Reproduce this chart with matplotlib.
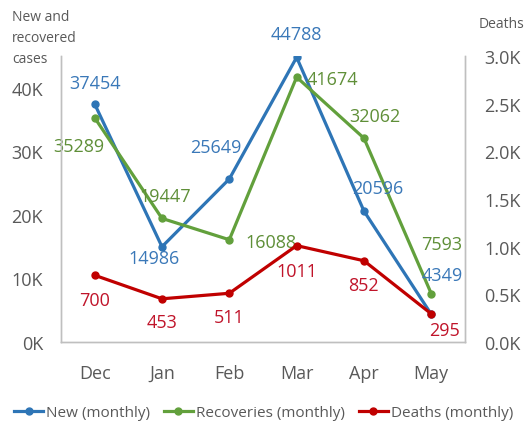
import matplotlib
matplotlib.use('Agg')
import matplotlib.pyplot as plt
from matplotlib.ticker import FuncFormatter

plt.rcParams['font.family'] = ['Open Sans', 'DejaVu Sans']

months = ['Dec', 'Jan', 'Feb', 'Mar', 'Apr', 'May']
new_cases = [37454, 14986, 25649, 44788, 20596, 4349]
recoveries = [35289, 19447, 16088, 41674, 32062, 7593]
deaths = [700, 453, 511, 1011, 852, 295]

# label offsets in pixels (dx, dy), picked to sit where the original has them
new_off = [(0, 21), (-8, -11), (-13, 32), (0, 23), (14, 23), (11, 39)]
rec_off = [(-16, -28), (3, 22), (42, -2), (36, -2), (11, 22), (10, 50)]
dth_off = [(0, -25), (0, -23), (0, -24), (0, -25), (-1, -24), (13, -16)]

c_new, c_rec, c_dth = '#2E75B6', '#62A03C', '#C00000'
t_new, t_rec, t_dth = '#3A78B8', '#5F8F38', '#C0142A'
grey = '#595959'

fig = plt.figure(figsize=(5.27, 4.39), dpi=100)
ax = fig.add_axes([0.1157, 0.2187, 0.7666, 0.6515])
ax2 = ax.twinx()

x = list(range(len(months)))
l1, = ax.plot(x, new_cases, color=c_new, lw=2.3, marker='o', ms=5, label='New (monthly)')
l2, = ax.plot(x, recoveries, color=c_rec, lw=2.3, marker='o', ms=5, label='Recoveries (monthly)')
l3, = ax2.plot(x, deaths, color=c_dth, lw=2.3, marker='o', ms=5, label='Deaths (monthly)')

for vals, offs, col, a in [(new_cases, new_off, t_new, ax),
                           (recoveries, rec_off, t_rec, ax),
                           (deaths, dth_off, t_dth, ax2)]:
    for i, v in enumerate(vals):
        a.annotate(str(v), (i, v), xytext=offs[i], textcoords='offset pixels',
                   ha='center', va='center', color=col, fontsize=13)

ax.set_xlim(-0.5, 5.5)
ax.set_ylim(0, 45000)
ax2.set_ylim(0, 3000)
ax.set_yticks([0, 10000, 20000, 30000, 40000])
ax2.set_yticks([0, 500, 1000, 1500, 2000, 2500, 3000])
ax.yaxis.set_major_formatter(FuncFormatter(lambda v, p: '%dK' % (v / 1000)))
ax2.yaxis.set_major_formatter(FuncFormatter(lambda v, p: '%.1fK' % (v / 1000)))
ax.set_xticks(x)
ax.set_xticklabels(months)

for a in (ax, ax2):
    a.tick_params(length=0, labelsize=13, labelcolor=grey)
    a.spines['top'].set_visible(False)
    for s in ('left', 'right', 'bottom'):
        a.spines[s].set_color('#BFBFBF')
        a.spines[s].set_linewidth(1.0)
ax.tick_params(axis='x', pad=16)
ax.tick_params(axis='y', pad=13)
ax2.tick_params(axis='y', pad=14)

fig.text(12 / 527, 1 - 10 / 439, 'New and\nrecovered\ncases', ha='left', va='top',
         fontsize=10, color=grey, linespacing=1.55)
fig.text(479 / 527, 1 - 24 / 439, 'Deaths', ha='left', va='center',
         fontsize=10, color=grey)

fig.legend(handles=[l1, l2, l3], loc='center', bbox_to_anchor=(0.5, 1 - 414 / 439),
           ncol=3, frameon=False, fontsize=11, handlelength=1.9, handletextpad=0.2,
           columnspacing=0.9, labelcolor=grey)

fig.savefig('out.png', dpi=100)
